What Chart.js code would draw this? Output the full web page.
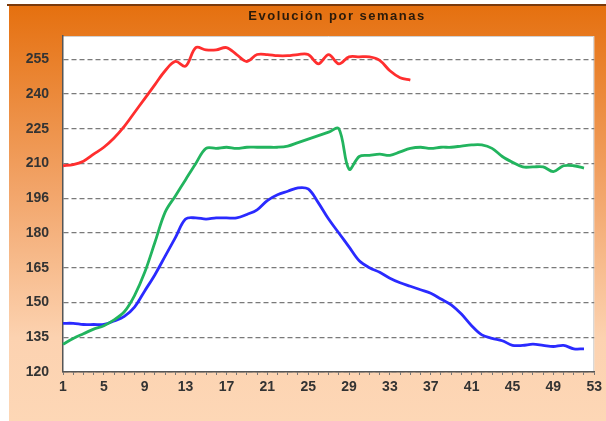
<!DOCTYPE html>
<html lang="es">
<head>
<meta charset="UTF-8">
<title>Evolución por semanas</title>
<script src="https://cdn.jsdelivr.net/npm/chart.js"></script>
<style>
  body { margin: 0; background: #fff; }
  #wrap { position: relative; width: 606px; height: 421px; }
</style>
</head>
<body>
<div id="wrap"><canvas id="weeksChart" width="606" height="421"></canvas></div>
<script>
  // data
  const chartTitle = 'Evolución por semanas';
  const weeks = Array.from({length: 53}, (_, i) => String(i + 1));
  const yTickValues = [120, 135, 150, 165, 180, 195, 210, 225, 240, 255];
  const yTickLabels = ['120', '135', '150', '165', '180', '196', '210', '225', '240', '255'];

  const redSeries = [209, 209.5, 211, 214, 217, 221, 226, 232, 238, 244,
    250, 254, 252, 260, 259, 259, 260, 257, 254, 257,
    257, 256.5, 256.5, 257, 257, 253, 257, 253, 256, 256,
    256, 254.5, 250, 247, 246];

  const greenSeries = [132, 134.5, 136.5, 138.5, 140, 142.5, 146, 153, 163, 176,
    189, 196, 203, 210, 216.5, 216.5, 217, 216.5, 217, 217,
    217, 217, 217.5, 219, 220.5, 222, 223.5, 225, 207.5, 213,
    213.5, 214, 213.5, 215, 216.5, 217, 216.5, 217, 217, 217.5,
    218, 218, 216.5, 213, 210.5, 208.5, 208.5, 208.5, 206.5, 209,
    209, 208];

  const blueSeries = [141, 141, 140.5, 140.5, 140.5, 142, 144, 148, 155, 162,
    170, 178, 186, 186.5, 186, 186.5, 186.5, 186.5, 188, 190,
    194, 196.5, 198, 199.5, 199, 193, 186, 180, 174, 168,
    165, 163, 160.5, 158.5, 157, 155.5, 154, 151.5, 149, 145,
    140, 136, 134.5, 133.5, 131.5, 131.5, 132, 131.5, 131, 131.5,
    130, 130];

  const tickFont = { family: 'Liberation Sans', size: 14, weight: 'bold' };

  // orange panel, white plot area, title
  const panelPlugin = {
    id: 'panel',
    beforeDraw(chart) {
      const ctx = chart.ctx;
      const a = chart.chartArea;
      ctx.save();
      const g = ctx.createLinearGradient(0, 5, 0, 421);
      g.addColorStop(0, '#e5700f');
      g.addColorStop(0.45, '#f2a56a');
      g.addColorStop(0.8, '#fcd2b0');
      g.addColorStop(1, '#fdd7b6');
      ctx.fillStyle = g;
      ctx.fillRect(9, 5, chart.width - 9, chart.height - 5);
      ctx.fillStyle = '#7a3a0c';
      ctx.fillRect(7, 4, chart.width - 7, 2);
      ctx.fillStyle = '#ffffff';
      ctx.fillRect(a.left, a.top, a.right - a.left, a.bottom - a.top);
      ctx.strokeStyle = '#d0d0d0';
      ctx.lineWidth = 1;
      ctx.beginPath();
      ctx.moveTo(a.left, a.top + 0.5);
      ctx.lineTo(a.right - 0.5, a.top + 0.5);
      ctx.lineTo(a.right - 0.5, a.bottom);
      ctx.stroke();
      ctx.fillStyle = '#2a1a0a';
      ctx.font = 'bold 13px "Liberation Sans"';
      ctx.letterSpacing = '1.5px';
      ctx.textAlign = 'center';
      ctx.textBaseline = 'middle';
      ctx.fillText(chartTitle, 337, 16);
      ctx.restore();
    }
  };

  function line(label, data, color) {
    return {
      label: label,
      data: data,
      borderColor: color,
      backgroundColor: color,
      borderWidth: 2.8,
      pointRadius: 0,
      tension: 0.35,
      fill: false
    };
  }

  new Chart(document.getElementById('weeksChart'), {
    type: 'line',
    data: {
      labels: weeks,
      datasets: [
        line('Rojo', redSeries, '#ff2e2e'),
        line('Verde', greenSeries, '#22b45e'),
        line('Azul', blueSeries, '#2a2aff')
      ]
    },
    plugins: [panelPlugin],
    options: {
      responsive: false,
      animation: false,
      layout: { padding: { left: 9, top: 36, right: 8, bottom: 0 } },
      plugins: {
        legend: { display: false },
        title: { display: false },
        tooltip: { enabled: false }
      },
      scales: {
        x: {
          type: 'category',
          offset: false,
          afterFit(scale) { scale.height = 49; },
          grid: {
            drawOnChartArea: false,
            drawTicks: true,
            tickLength: 3,
            color: '#777'
          },
          border: { color: '#555', width: 1.5 },
          ticks: {
            autoSkip: false,
            maxRotation: 0,
            padding: 4,
            color: '#333',
            font: tickFont,
            callback(value, index) {
              return index % 4 === 0 ? weeks[index] : '';
            }
          }
        },
        y: {
          min: 120,
          max: 265,
          afterFit(scale) { scale.width = 54; },
          afterBuildTicks(scale) {
            scale.ticks = yTickValues.map(v => ({ value: v }));
          },
          grid: {
            drawTicks: false,
            color: '#7a7a7a',
            lineWidth: 1.2
          },
          border: { color: '#555', width: 1.5, dash: [5, 3] },
          ticks: {
            padding: 14,
            color: '#333',
            font: tickFont,
            callback(value) {
              const i = yTickValues.indexOf(value);
              return i >= 0 ? yTickLabels[i] : '';
            }
          }
        }
      }
    }
  });
</script>
</body>
</html>
